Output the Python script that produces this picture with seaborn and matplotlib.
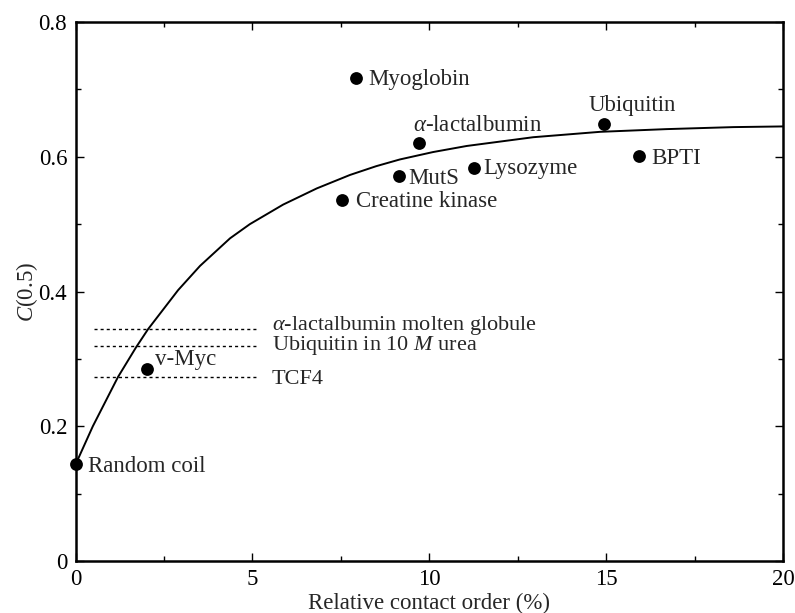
import numpy as np
import pandas as pd
import matplotlib
matplotlib.use("Agg")
import matplotlib.pyplot as plt
import seaborn as sns
from matplotlib.ticker import MultipleLocator, FixedLocator, FuncFormatter

# ---- data ----
proteins = ["Random coil", "v-Myc", "Creatine kinase", "Myoglobin", "MutS",
            r"$\alpha$-lactalbumin", "Lysozyme", "Ubiquitin", "BPTI"]
rco = [0.0, 2.01, 7.53, 7.93, 9.14, 9.72, 11.26, 14.94, 15.93]
c05 = [0.144, 0.2845, 0.536, 0.717, 0.571, 0.621, 0.584, 0.648, 0.601]

curve_x = [0, 0.49, 1.2, 1.71, 2.05, 2.90, 3.52, 4.37, 4.93, 5.87, 6.82, 7.76,
           8.5, 9.17, 10.11, 11.06, 12.94, 14.83, 16.7, 18.6, 20]
curve_y = [0.143, 0.200, 0.273, 0.317, 0.344, 0.402, 0.438, 0.479, 0.500, 0.529,
           0.553, 0.573, 0.586, 0.596, 0.607, 0.616, 0.629, 0.637, 0.641, 0.644, 0.645]

ref_labels = [r"$\alpha$-lactalbumin molten globule", r"Ubiquitin in 10 $M$ urea", "TCF4"]
ref_values = [0.344, 0.3187, 0.2727]
ref_x = [0.52, 5.2]

x_ticks = [0, 5, 10, 15, 20]
y_ticks = [0, 0.2, 0.4, 0.6, 0.8]

FS = 16.5

# ---- style ----
sns.set_theme(style="ticks")
plt.rcParams["font.family"] = ["Liberation Serif", "DejaVu Serif"]
plt.rcParams["mathtext.fontset"] = "custom"
plt.rcParams["mathtext.rm"] = "Liberation Serif"
plt.rcParams["mathtext.it"] = "Liberation Serif:italic"

fig = plt.figure(figsize=(7.95, 6.13), dpi=100)
ax = fig.add_axes([75.5 / 795, 52 / 613, (783 - 75.5) / 795, (561 - 22) / 613])

curve_df = pd.DataFrame({"x": curve_x, "y": curve_y})
sns.lineplot(data=curve_df, x="x", y="y", ax=ax, color="black", lw=1.4,
             estimator=None, sort=False)

for v in ref_values:
    ax.plot(ref_x, [v, v], color="black", lw=1.0, ls=(0, (2.2, 2.2)))
ref_dy = [4, 1, -2]
for lab, v, dy in zip(ref_labels, ref_values, ref_dy):
    ax.annotate(lab, xy=(ref_x[1], v), xytext=(9, dy * 0.72), textcoords="offset points",
                ha="left", va="center", fontsize=FS - 0.5)

pts = pd.DataFrame({"rco": rco, "c": c05, "name": proteins})
sns.scatterplot(data=pts, x="rco", y="c", ax=ax, color="black", s=85,
                edgecolor="black", linewidth=0, zorder=5, clip_on=False)

# label offsets in pixels (dx, dy, ha)
offsets = {
    "Random coil": (12, -3, "left"),
    "v-Myc": (8, 10, "left"),
    "Creatine kinase": (14, -2, "left"),
    "Myoglobin": (12, -2, "left"),
    "MutS": (9, -2, "left"),
    r"$\alpha$-lactalbumin": (-6, 17, "left"),
    "Lysozyme": (9, -1, "left"),
    "Ubiquitin": (28, 19, "center"),
    "BPTI": (12, -2, "left"),
}
for name, xv, yv in zip(proteins, rco, c05):
    dx, dy, ha = offsets[name]
    ax.annotate(name, xy=(xv, yv), xytext=(dx * 0.72, dy * 0.72),
                textcoords="offset points", ha=ha, va="center", fontsize=FS)

ax.set_xlim(0, 20)
ax.set_ylim(0, 0.8)
ax.xaxis.set_major_locator(FixedLocator(x_ticks))
ax.yaxis.set_major_locator(FixedLocator(y_ticks))
ax.xaxis.set_minor_locator(MultipleLocator(2.5))
ax.yaxis.set_minor_locator(MultipleLocator(0.1))
ax.yaxis.set_major_formatter(FuncFormatter(lambda v, p: "0" if v == 0 else f"{v:.1f}"))
ax.xaxis.set_major_formatter(FuncFormatter(lambda v, p: f"{v:g}"))

ax.tick_params(which="both", direction="in", top=True, right=True, color="black",
               labelsize=FS, labelcolor="black")
ax.tick_params(which="major", length=6, width=1.0)
ax.tick_params(which="minor", length=3.5, width=1.0)
ax.tick_params(axis="y", which="major", pad=6)
ax.tick_params(axis="x", which="major", pad=6)
for s in ax.spines.values():
    s.set_linewidth(1.8)
    s.set_color("black")

ax.set_xlabel("Relative contact order (%)", fontsize=FS, labelpad=2)
ax.set_ylabel(r"$C$(0.5)", fontsize=FS, labelpad=-1)

fig.savefig("out.png", dpi=100)
